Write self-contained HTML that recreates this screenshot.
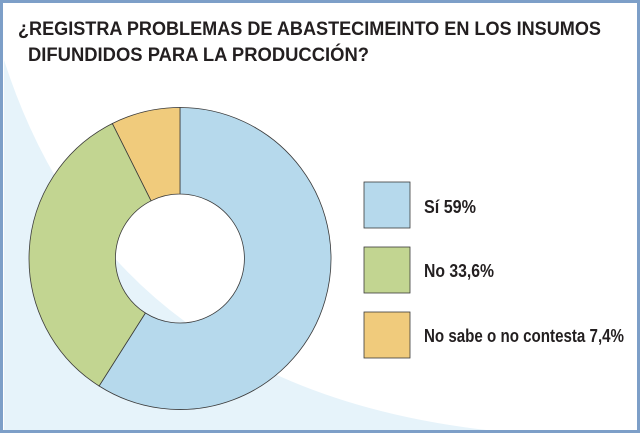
<!DOCTYPE html>
<html><head><meta charset="utf-8"><style>
html,body{margin:0;padding:0;background:#fff}
svg{display:block}
</style></head><body>
<svg width="640" height="433" viewBox="0 0 640 433" xmlns="http://www.w3.org/2000/svg">
<rect x="0" y="0" width="640" height="433" fill="#fff"/>
<path d="M4 60 Q 110 390 495 431 L4 431 Z" fill="#e6f3fa"/>
<rect x="1.5" y="1.5" width="637" height="430" fill="none" stroke="#7d9fc8" stroke-width="3"/>
<g font-family="Liberation Sans, sans-serif" font-weight="bold" fill="#231f20">
<text x="18" y="35" font-size="19" textLength="583" lengthAdjust="spacingAndGlyphs">¿REGISTRA PROBLEMAS DE ABASTECIMEINTO EN LOS INSUMOS</text>
<text x="28" y="61" font-size="19" textLength="341" lengthAdjust="spacingAndGlyphs">DIFUNDIDOS PARA LA PRODUCCIÓN?</text>
<text x="424" y="213" font-size="18" textLength="52" lengthAdjust="spacingAndGlyphs">Sí  59%</text>
<text x="424" y="277" font-size="18" textLength="70" lengthAdjust="spacingAndGlyphs">No 33,6%</text>
<text x="424" y="342" font-size="18" textLength="200" lengthAdjust="spacingAndGlyphs">No sabe o no contesta 7,4%</text>
</g>
<g stroke="#3a3a3a" stroke-width="0.8">
<path d="M180,107.5 A151,151 0 1 1 99.1,386 L145.4,313 A64.5,64.5 0 1 0 180,194 Z" fill="#b6d9ec"/>
<path d="M99.1,386 A151,151 0 0 1 112.4,123.5 L151.1,200.8 A64.5,64.5 0 0 0 145.4,313 Z" fill="#c2d591"/>
<path d="M112.4,123.5 A151,151 0 0 1 180,107.5 L180,194 A64.5,64.5 0 0 0 151.1,200.8 Z" fill="#f0cb7c"/>
<rect x="364" y="182" width="46" height="46" fill="#b6d9ec"/>
<rect x="364" y="247" width="46" height="46" fill="#c2d591"/>
<rect x="364" y="312" width="46" height="46" fill="#f0cb7c"/>
</g>
</svg>
</body></html>
